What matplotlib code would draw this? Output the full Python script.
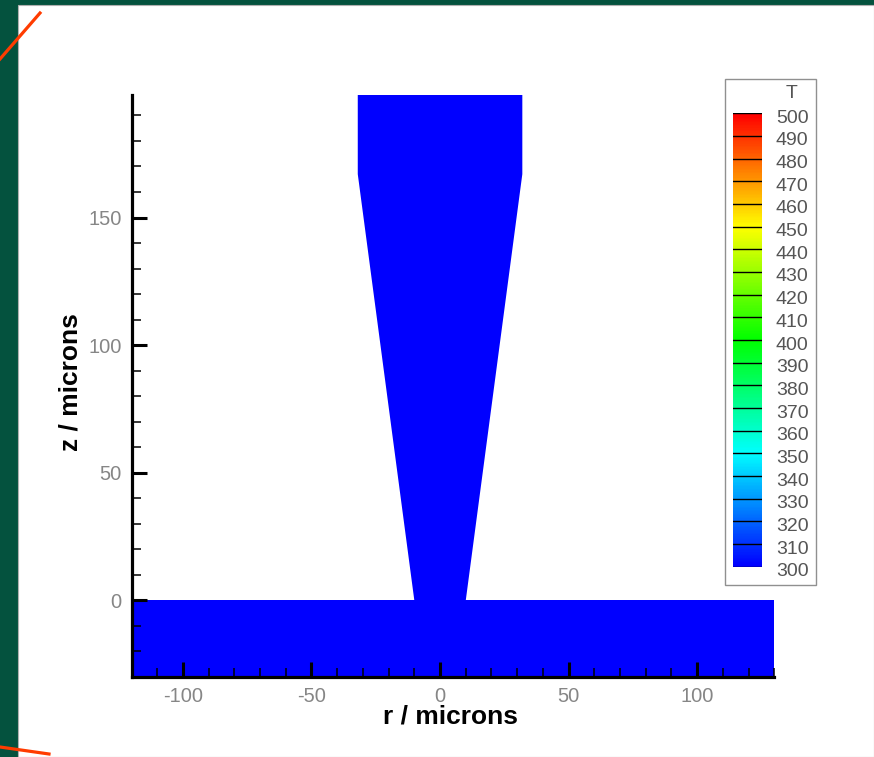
import numpy as np
import matplotlib
matplotlib.use('Agg')
import matplotlib.pyplot as plt
from matplotlib.colors import LinearSegmentedColormap, Normalize
from matplotlib.patches import Rectangle
from matplotlib.lines import Line2D
from matplotlib.transforms import ScaledTranslation

plt.rcParams['axes.unicode_minus'] = False

# geometry of the domain (microns)
needle_r = [-10, 10, 32, 32, -32, -32]
needle_z = [0, 0, 167, 220, 220, 167]
substrate_r = [-120, 130, 130, -120]
substrate_z = [-30, -30, 0, 0]

# temperature (K) in each region
T_needle = 300
T_substrate = 300

# legend levels
T_levels = list(range(300, 510, 10))

# tecplot "small rainbow"
cmap = LinearSegmentedColormap.from_list(
    'small_rainbow', ['#0000ff', '#00ffff', '#00ff00', '#ffff00', '#ff0000'])
norm = Normalize(vmin=300, vmax=500)

W, H = 874, 757
fig = plt.figure(figsize=(W / 100, H / 100), dpi=100)
fig.patch.set_facecolor('#04523e')

def fx(px):
    return px / W

def fy(py):
    return 1 - py / H

# white page with thin grey border
fig.patches.append(Rectangle((fx(18), 0), 1 - fx(18), fy(5), transform=fig.transFigure,
                             facecolor='white', edgecolor='#b0b0b0', lw=0.8, zorder=-2))
# orange marks in the corners
fig.lines.append(Line2D([fx(0), fx(40)], [fy(59), fy(13)], transform=fig.transFigure,
                        color='#ff3c00', lw=2.3, zorder=5))
fig.lines.append(Line2D([fx(0), fx(49)], [fy(747), fy(754)], transform=fig.transFigure,
                        color='#ff3c00', lw=2.3, zorder=5))

# main axes
ax = fig.add_axes([fx(131.5), fy(677), fx(774.3) - fx(131.5), fy(95) - fy(677)])
ax.set_zorder(2)
ax.set_facecolor('none')
ax.fill(substrate_r, substrate_z, color=cmap(norm(T_substrate)), lw=0)
ax.fill(needle_r, needle_z, color=cmap(norm(T_needle)), lw=0)
ax.set_xlim(-120, 130)
ax.set_ylim(-30, 198)

for s in ['top', 'right']:
    ax.spines[s].set_visible(False)
for s in ['left', 'bottom']:
    ax.spines[s].set_linewidth(2.3)
    ax.spines[s].set_zorder(10)

ax.set_xticks(np.arange(-100, 101, 50))
ax.set_xticks(np.arange(-120, 131, 10), minor=True)
ax.set_yticks(np.arange(0, 151, 50))
ax.set_yticks(np.arange(-30, 198, 10), minor=True)
ax.tick_params(which='major', direction='in', length=10.5, width=2.2, pad=7,
               labelsize=14.5, labelcolor='#868686')
ax.tick_params(which='minor', direction='in', length=6.5, width=1.1)
for lab in ax.get_xticklabels() + ax.get_yticklabels():
    lab.set_family('Liberation Sans')

fig.text(fx(451), fy(716), 'r / microns', ha='center', va='center',
         fontsize=19, fontweight='bold', family='Liberation Sans')
fig.text(fx(70), fy(382), 'z / microns', ha='center', va='center', rotation=90,
         fontsize=19, fontweight='bold', family='Liberation Sans')

# contour legend
fig.patches.append(Rectangle((fx(725), fy(585)), fx(816) - fx(725), fy(79) - fy(585),
                             transform=fig.transFigure, facecolor='white',
                             edgecolor='#909090', lw=1.0, zorder=-1))
cax = fig.add_axes([fx(733), fy(566.7), fx(762) - fx(733), fy(113.3) - fy(566.7)])
cax.set_zorder(3)
grad = np.linspace(300, 500, 400).reshape(-1, 1)
cax.imshow(grad, extent=[0, 1, 300, 500], origin='lower', aspect='auto', cmap=cmap, norm=norm)
for lv in T_levels:
    cax.axhline(lv, color='black', lw=1.0)
cax.set_xlim(0, 1)
cax.set_ylim(300, 500)
for s in cax.spines.values():
    s.set_visible(False)
cax.set_xticks([])
cax.yaxis.tick_right()
cax.set_yticks(T_levels)
cax.set_yticklabels([str(v) for v in T_levels])
cax.tick_params(axis='y', length=0, pad=10, labelsize=14, labelcolor='#555555')
shift = ScaledTranslation(0, -3 / 100, fig.dpi_scale_trans)
for lab in cax.get_yticklabels():
    lab.set_family('Liberation Sans')
    lab.set_transform(lab.get_transform() + shift)
fig.text(fx(792), fy(94), 'T', ha='center', va='center', fontsize=14,
         color='#555555', family='Liberation Sans')

fig.savefig('out.png', dpi=100, facecolor=fig.get_facecolor())
